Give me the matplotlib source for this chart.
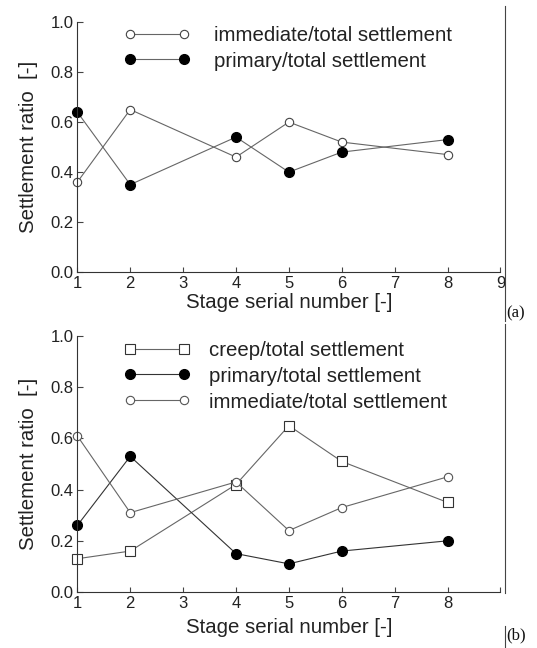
import numpy as np
import matplotlib
matplotlib.use("Agg")
from matplotlib import pyplot as plt
from matplotlib.lines import Line2D

plt.rcParams['font.family'] = ['Liberation Sans', 'DejaVu Sans']

# Stage serial numbers (stage 3 and 7 are missing)
stageL = [1, 2, 4, 5, 6, 8]

# Panel (a)
immedA = [0.36, 0.65, 0.46, 0.60, 0.52, 0.47]
primA  = [0.64, 0.35, 0.54, 0.40, 0.48, 0.53]

# Panel (b)
creepB = [0.13, 0.16, 0.42, 0.65, 0.51, 0.35]
primB  = [0.26, 0.53, 0.15, 0.11, 0.16, 0.20]
immedB = [0.61, 0.31, 0.43, 0.24, 0.33, 0.45]

yTicks = [0.0, 0.2, 0.4, 0.6, 0.8, 1.0]
xTicks = [1, 2, 3, 4, 5, 6, 7, 8, 9]
xLabA  = ["1", "2", "3", "4", "5", "6", "7", "8", "9"]
xLabB  = ["1", "2", "3", "4", "5", "6", "7", "8", ""]

lineGray = "#666666"
txtCol   = "#222222"
legFs    = 14.7


def style_axes(ax, xLab):
    """
    Common axis look: left/bottom spines only, inward ticks
    """
    ax.set_xlim(1, 9)
    ax.set_ylim(0, 1.0)
    ax.set_xticks(xTicks)
    ax.set_xticklabels(xLab)
    ax.set_yticks(yTicks)
    ax.set_yticklabels(["{:.1f}".format(v) for v in yTicks])
    for s in ["top", "right"]:
        ax.spines[s].set_visible(False)
    for s in ["left", "bottom"]:
        ax.spines[s].set_color("#333333")
        ax.spines[s].set_linewidth(0.8)
    ax.tick_params(axis="both", direction="in", colors="#444444",
                   labelcolor=txtCol, labelsize=12, width=0.8)
    ax.tick_params(axis="x", length=3.5, pad=3)
    ax.tick_params(axis="y", length=4.5, pad=2.5)
    ax.set_xlabel("Stage serial number [-]", fontsize=legFs, color=txtCol)
    ax.set_ylabel("Settlement ratio  [-]", fontsize=legFs, color=txtCol)


fig = plt.figure(figsize=(5.37, 6.48), dpi=100)
axA = fig.add_axes([0.144, 0.580, 0.788, 0.386])
axB = fig.add_axes([0.144, 0.0864, 0.788, 0.395])

# Panel (a)
axA.plot(stageL, immedA, color=lineGray, lw=0.8, marker="o", ms=6,
         mfc="white", mec="#444444", mew=0.8,
         label="immediate/total settlement", clip_on=False)
axA.plot(stageL, primA, color=lineGray, lw=0.8, marker="o", ms=7,
         mfc="black", mec="black", label="primary/total settlement",
         clip_on=False)
style_axes(axA, xLabA)
axA.legend(loc="upper left", bbox_to_anchor=(0.110, 0.984), frameon=False,
           numpoints=2, handlelength=3.23, handletextpad=1.2,
           borderpad=0, borderaxespad=0, labelspacing=0.32,
           fontsize=legFs, labelcolor=txtCol)
axA.xaxis.set_label_coords(0.5, -0.085)
axA.yaxis.set_label_coords(-0.093, 0.5)

# Panel (b)
axB.plot(stageL, creepB, color=lineGray, lw=0.8, marker="s", ms=6.5,
         mfc="white", mec="#333333", mew=0.8,
         label="creep/total settlement", clip_on=False)
axB.plot(stageL, primB, color="#333333", lw=0.8, marker="o", ms=7,
         mfc="black", mec="black", label="primary/total settlement",
         clip_on=False)
axB.plot(stageL, immedB, color=lineGray, lw=0.8, marker="o", ms=6,
         mfc="white", mec="#555555", mew=0.8,
         label="immediate/total settlement", clip_on=False)
style_axes(axB, xLabB)
axB.legend(loc="upper left", bbox_to_anchor=(0.110, 0.982), frameon=False,
           numpoints=2, handlelength=3.23, handletextpad=0.95,
           borderpad=0, borderaxespad=0, labelspacing=0.34,
           fontsize=legFs, labelcolor=txtCol)
axB.xaxis.set_label_coords(0.5, -0.102)
axB.yaxis.set_label_coords(-0.093, 0.5)

# Page frame lines and panel tags
W, H = 537.0, 648.0
xF = 505 / W
for y0, y1 in [(6, 321), (324, 593), (626, 648)]:
    fig.add_artist(Line2D([xF, xF], [1 - y0 / H, 1 - y1 / H],
                          color="#444444", lw=0.8))
fig.text(506 / W, 1 - 313 / H, "(a)", family="Liberation Serif",
         fontsize=12, va="center", ha="left", color="#111111")
fig.text(506 / W, 1 - 635 / H, "(b)", family="Liberation Serif",
         fontsize=12, va="center", ha="left", color="#111111")

plt.savefig("out.png", dpi=100)
